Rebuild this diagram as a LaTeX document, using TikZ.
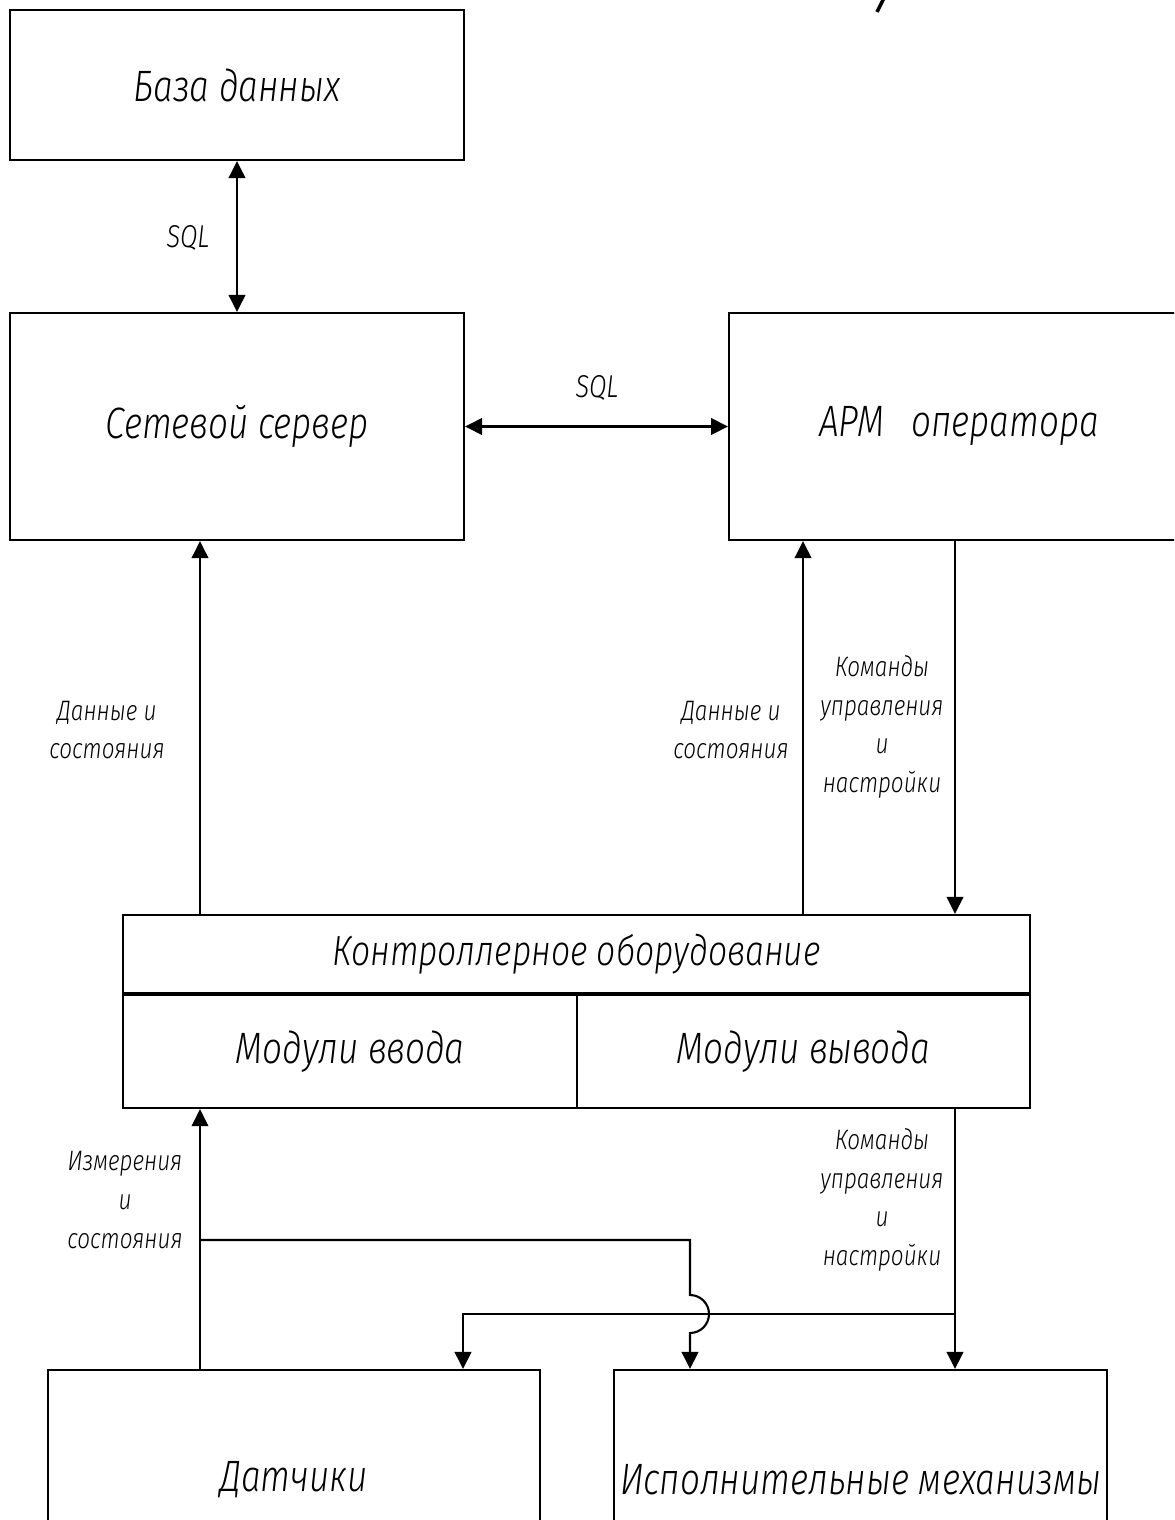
\documentclass[tikz,border=0pt]{standalone}
\usepackage{fontspec}
\setmainfont{Fira Sans}[UprightFont=* Light, ItalicFont=* Light Italic, FakeStretch=0.8]
\usetikzlibrary{positioning, calc, arrows.meta}
\tikzstyle{Block} = [
draw, line width=1.2pt, inner sep=0pt,
font=\itshape\fontsize{25}{30}\selectfont]
\tikzstyle{Label} = [inner sep=0pt, font=\itshape\fontsize{18}{22}\selectfont]
\tikzstyle{Note} = [inner sep=0pt, align=center,
font=\itshape\fontsize{16}{22}\selectfont]
\tikzstyle{Arrow} = [
line width=1.2pt,
-{Triangle[length=3.4mm, width=3.3mm]}]
\tikzstyle{BiArrow} = [
line width=1.2pt,
{Triangle[length=3.4mm, width=3.3mm]}-{Triangle[length=3.4mm, width=3.3mm]}]

\begin{document}
\begin{tikzpicture}[x=0.02cm, y=-0.02cm]
    \useasboundingbox (0,0) rectangle (1174,1520);
    \clip (0,0) rectangle (1174,1520);

    \node [Block, minimum width=9.08cm, minimum height=3cm] (1) at (237,85) {База данных};
    \node [Block, minimum width=9.08cm, minimum height=4.54cm] (2) at (237,426.5) {Сетевой сервер};
    \node [Block, minimum width=9.2cm, minimum height=4.54cm] (3) at (959,426.5) {АРМ\hspace{0.6em}оператора};
    \node [Block, minimum width=18.14cm, minimum height=1.56cm, font=\itshape\fontsize{24}{28}\selectfont] (4) at (576.5,954) {Контроллерное оборудование};
    \node [Block, minimum width=9.08cm, minimum height=2.26cm, below right=0pt and 0pt of 4.south west] (5) {Модули ввода};
    \node [Block, minimum width=9.06cm, minimum height=2.26cm, below left=0pt and 0pt of 4.south east] (6) {Модули вывода};
    \node [Block, minimum width=9.84cm, minimum height=4.4cm] (7) at (294,1480) {Датчики};
    \node [Block, minimum width=9.86cm, minimum height=4.4cm] (8) at (860.5,1480) {Исполнительные механизмы};

    \node [Label] (9) at (188,238) {SQL};
    \node [Label] (10) at (597,388) {SQL};
    \node [Note] (11) at (107,730) {Данные и\\состояния};
    \node [Note] (12) at (731,730) {Данные и\\состояния};
    \node [Note] (13) at (882,727) {Команды\\управления\\и\\настройки};
    \node [Note] (14) at (125,1200) {Измерения\\и\\состояния};
    \node [Note] (15) at (882,1200) {Команды\\управления\\и\\настройки};

    \coordinate (a) at (200,0);
    \coordinate (b) at (803,0);
    \coordinate (c) at (955,0);
    \coordinate (d) at (463,0);
    \coordinate (e) at (690,0);
    \coordinate (f) at (0,1240);
    \coordinate (g) at (0,1314);

    \draw[BiArrow] (1) -- (2);
    \draw[BiArrow] (2) -- (3);
    \draw[Arrow] (a |- 4.north) -- (a |- 2.south);
    \draw[Arrow] (b |- 4.north) -- (b |- 3.south);
    \draw[Arrow] (c |- 3.south) -- (c |- 4.north);
    \draw[Arrow] (a |- 7.north) -- (a |- 5.south);
    \draw[Arrow] (a |- f) -- (e |- f) -- ($(e |- g)+(0,-19)$)
        arc[start angle=90, end angle=-90, radius=0.38cm] -- (e |- 8.north);
    \draw[Arrow] (c |- 6.south) -- (c |- 8.north);
    \draw[Arrow] (c |- g) -- (d |- g) -- (d |- 7.north);

    \draw[line width=2pt] (884,-2) -- (877,12);
\end{tikzpicture}
\end{document}
